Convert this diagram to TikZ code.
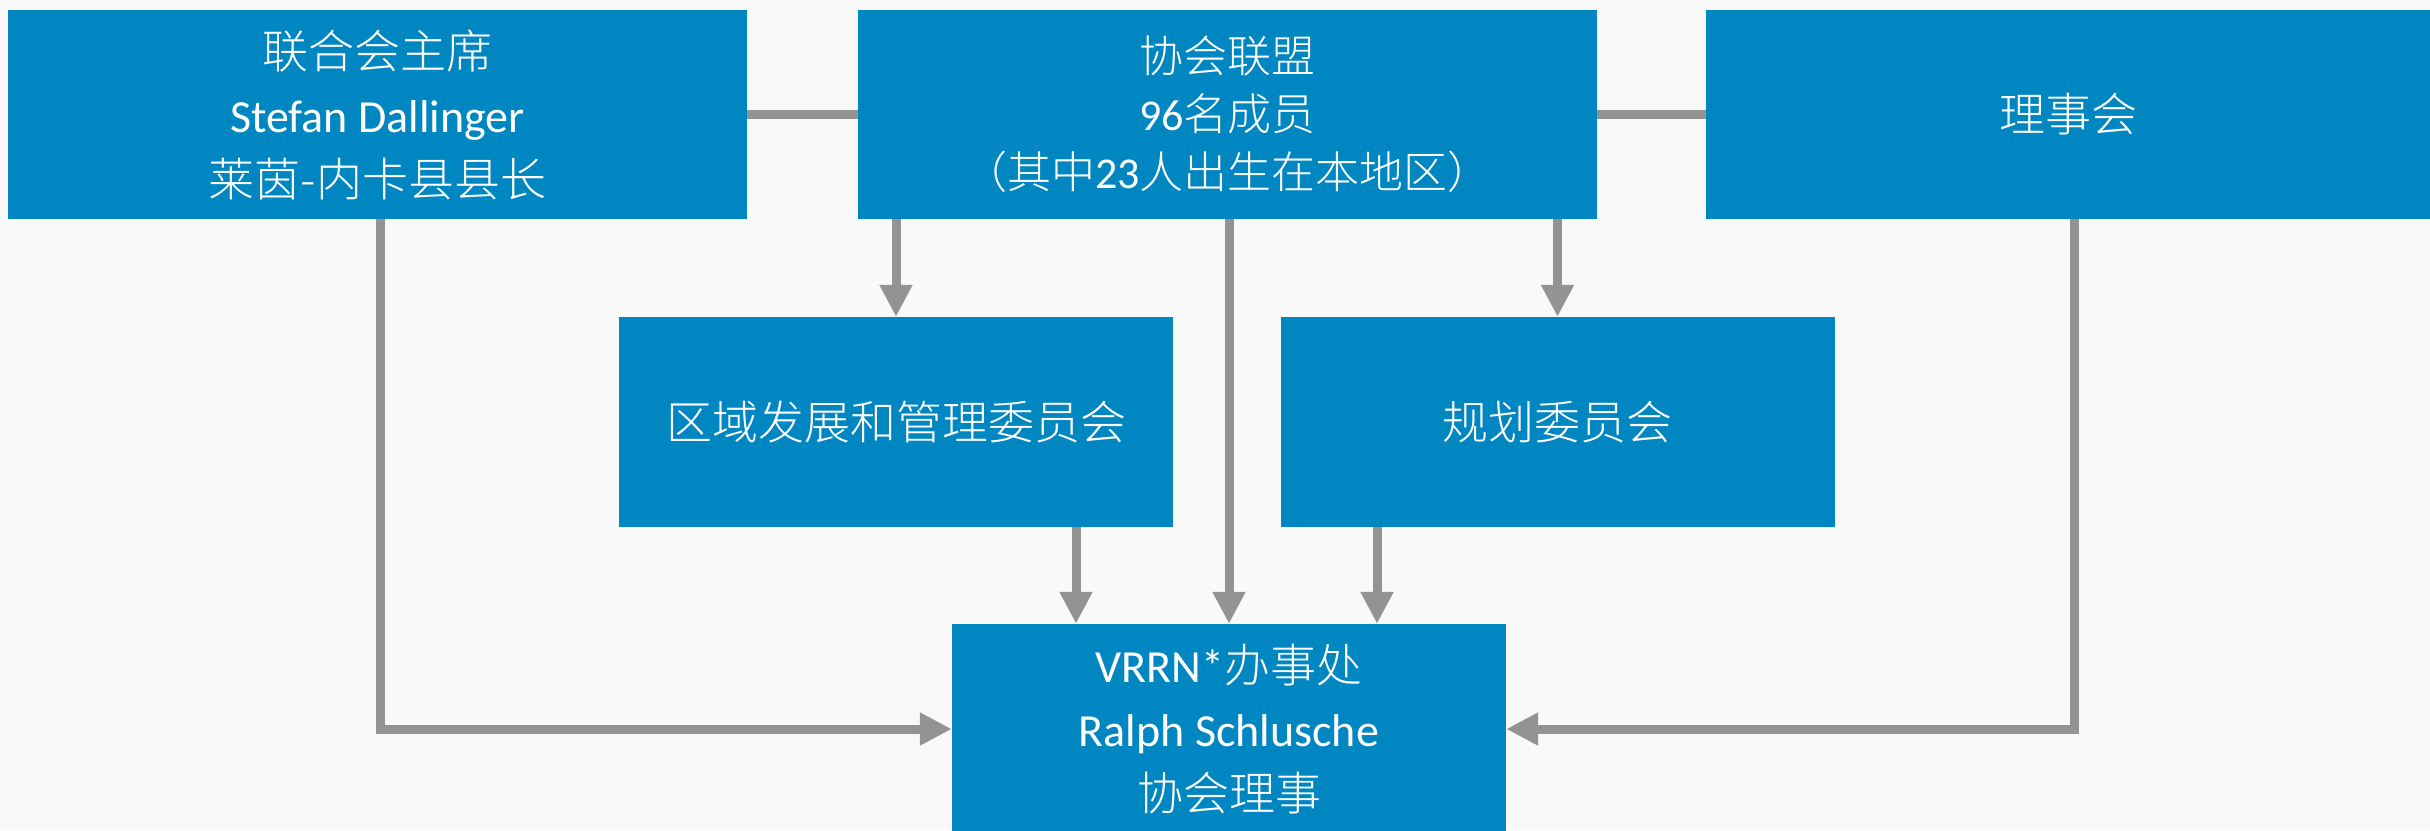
\documentclass[tikz,border=0pt]{standalone}
\usepackage{fontspec}
\setmainfont{Carlito}
\IfFontExistsTF{Noto Sans CJK SC Light}{\newfontfamily\cjk{Noto Sans CJK SC Light}}{\newfontfamily\cjk{Noto Sans CJK SC}}
\usetikzlibrary{arrows.meta}
\definecolor{boxblue}{HTML}{0086C0}
\definecolor{conn}{HTML}{939393}
\definecolor{bgcol}{HTML}{F9F9F9}
\begin{document}
\begin{tikzpicture}[x=1pt,y=-1pt,
  orgbox/.style={fill=boxblue, draw=none, text=white, align=center, inner sep=0pt,
    font=\fontsize{46}{64}\selectfont},
  wide/.style={minimum width=739pt, minimum height=209pt},
  mid/.style={minimum width=554pt, minimum height=210pt},
  link/.style={draw=conn, line width=9pt},
  arr/.style={link, -{Triangle[length=32pt,width=31pt]}}]
\fill[bgcol] (0,0) rectangle (2430,830);
\useasboundingbox (0,0) rectangle (2430,830);
\node[orgbox, wide] (A) at (377.5,114.5) {{\cjk 联合会主席}\\Stefan Dallinger\\{\cjk 莱茵-内卡县县长}};
\node[orgbox, wide, font=\fontsize{44}{58}\selectfont] (B) at (1227.5,114.5) {{\cjk 协会联盟}\\96{\cjk 名成员}\\{\cjk （其中}23{\cjk 人出生在本地区）}};
\node[orgbox, minimum width=724pt, minimum height=209pt] (C) at (2068,114.5) {{\cjk 理事会}};
\node[orgbox, mid] (D) at (896,422) {{\cjk 区域发展和管理委员会}};
\node[orgbox, mid] (E) at (1557.5,422) {{\cjk 规划委员会}};
\node[orgbox, mid] (F) at (1229,729) {VRRN*{\cjk 办事处}\\Ralph Schlusche\\{\cjk 协会理事}};
\draw[link] (A.east) -- (B.west);
\draw[link] (B.east) -- (C.west);
\draw[arr] (B.south -| D.north) -- (D.north);
\draw[arr] (B.south -| E.north) -- (E.north);
\draw[arr] (B.south -| F.north) -- (F.north);
\draw[arr] ([xshift=180pt]D.south) -- ([xshift=180pt]D.south |- F.north);
\draw[arr] ([xshift=-180.5pt]E.south) -- ([xshift=-180.5pt]E.south |- F.north);
\draw[arr] ([xshift=2.5pt]A.south) |- (F.west);
\draw[arr] ([xshift=6pt]C.south) |- (F.east);
\end{tikzpicture}
\end{document}
